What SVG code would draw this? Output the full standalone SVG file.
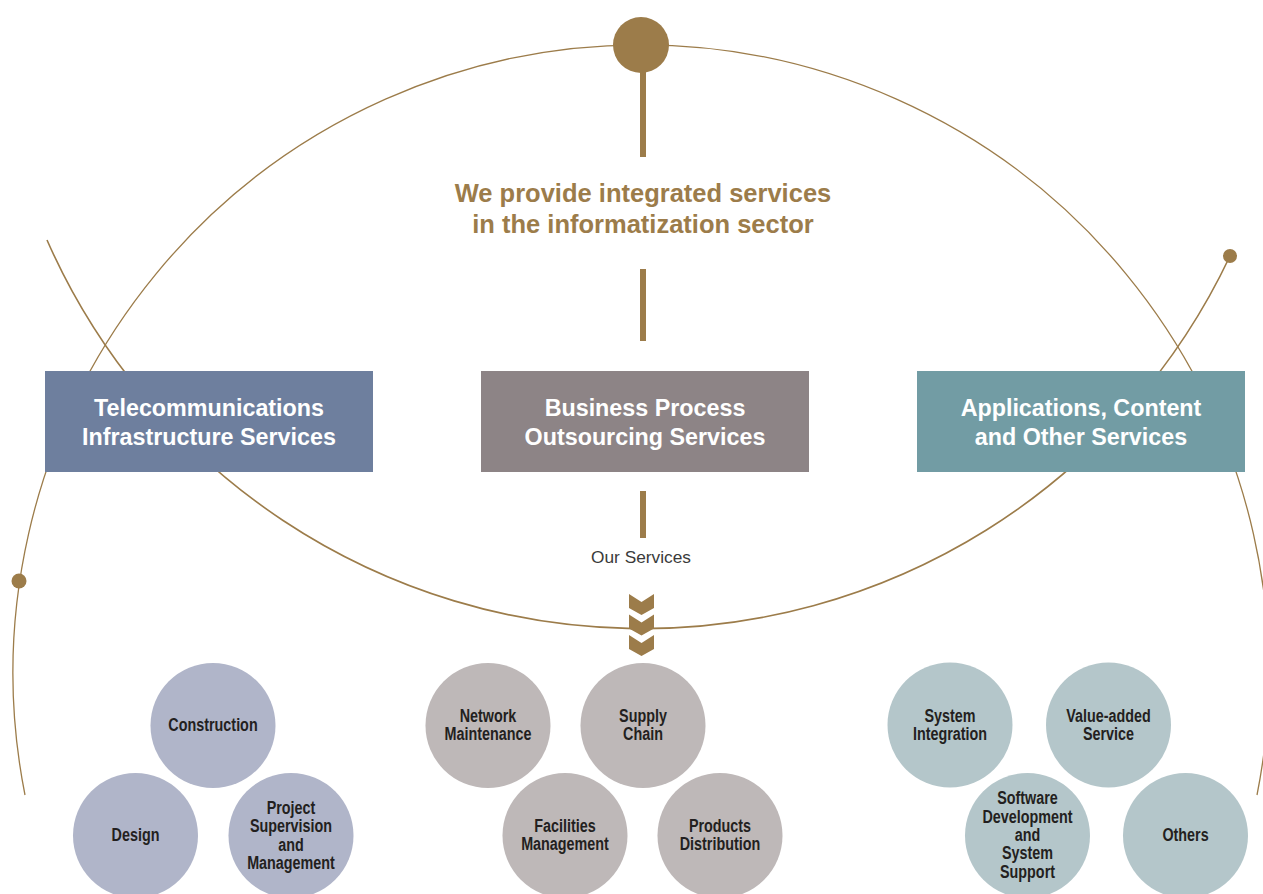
<svg xmlns="http://www.w3.org/2000/svg" width="1263" height="894" viewBox="0 0 1263 894">
  <style>
    .arc { fill: none; stroke: #9C7C4A; }
    .gold { fill: #9C7C4A; }
    .headline { font-family: "Liberation Sans", Arial, sans-serif; font-weight: bold; font-size: 25.5px; fill: #9C7C4A; text-anchor: middle; }
    .boxlabel { font-family: "Liberation Sans", Arial, sans-serif; font-weight: bold; font-size: 23.3px; fill: #FFFFFF; text-anchor: middle; }
    .caption { font-family: "Liberation Sans", Arial, sans-serif; font-size: 17.3px; fill: #3A3A3A; text-anchor: middle; }
    .svc { font-family: "Liberation Sans", Arial, sans-serif; font-weight: bold; font-size: 17.5px; fill: #231F20; text-anchor: middle; }
    .c-tel { fill: #B0B5C9; }
    .c-bpo { fill: #BEB8B8; }
    .c-app { fill: #B4C6CA; }
  </style>

  <!-- connectors: sweeping arcs, stems and chevrons -->
  <g id="connectors">
    <path class="arc" stroke-width="1.3" d="M25,795 A628,628 0 1 1 1257,795"/>
    <path class="arc" stroke-width="1.6" d="M47,240 A650,650 0 0 0 1230,256"/>
    <circle class="gold" cx="19" cy="581" r="7.5"/>
    <circle class="gold" cx="1230" cy="256" r="7"/>
    <circle class="gold" cx="641" cy="45" r="28"/>
    <rect class="gold" x="640" y="70" width="6" height="87"/>
    <rect class="gold" x="640" y="269" width="6" height="72"/>
    <rect class="gold" x="640" y="491" width="6" height="47"/>
    <g class="gold">
      <polygon points="629,594 641.5,602 654,594 654,608 641.5,615 629,608"/>
      <polygon points="629,614.5 641.5,622.5 654,614.5 654,628.5 641.5,635.5 629,628.5"/>
      <polygon points="629,635 641.5,643 654,635 654,649 641.5,656 629,649"/>
    </g>
  </g>

  <g id="headline">
    <text class="headline" x="643" y="202">We provide integrated services</text>
    <text class="headline" x="643" y="233">in the informatization sector</text>
  </g>

  <g id="box-telecom">
    <rect x="45" y="371" width="328" height="101" fill="#6E7F9E"/>
    <text class="boxlabel" x="209" y="416">Telecommunications</text>
    <text class="boxlabel" x="209" y="445">Infrastructure Services</text>
  </g>
  <g id="box-bpo">
    <rect x="481" y="371" width="328" height="101" fill="#8D8486"/>
    <text class="boxlabel" x="645" y="416">Business Process</text>
    <text class="boxlabel" x="645" y="445">Outsourcing Services</text>
  </g>
  <g id="box-apps">
    <rect x="917" y="371" width="328" height="101" fill="#729CA4"/>
    <text class="boxlabel" x="1081" y="416">Applications, Content</text>
    <text class="boxlabel" x="1081" y="445">and Other Services</text>
  </g>

  <g id="caption">
    <text class="caption" x="641" y="563">Our Services</text>
  </g>

  <!-- telecom infrastructure services (labels set in a condensed face) -->
  <g id="svc-construction">
    <circle class="c-tel" cx="213" cy="725.5" r="62.5"/>
    <g transform="translate(213 0) scale(0.82 1)">
      <text class="svc" x="0" y="731.5">Construction</text>
    </g>
  </g>
  <g id="svc-design">
    <circle class="c-tel" cx="135.5" cy="835.5" r="62.5"/>
    <g transform="translate(135.5 0) scale(0.82 1)">
      <text class="svc" x="0" y="841.5">Design</text>
    </g>
  </g>
  <g id="svc-project">
    <circle class="c-tel" cx="291" cy="835.5" r="62.5"/>
    <g transform="translate(291 0) scale(0.82 1)">
      <text class="svc" x="0" y="814">Project</text>
      <text class="svc" x="0" y="832.3">Supervision</text>
      <text class="svc" x="0" y="850.6">and</text>
      <text class="svc" x="0" y="869">Management</text>
    </g>
  </g>

  <!-- business process outsourcing services -->
  <g id="svc-network">
    <circle class="c-bpo" cx="488" cy="725.5" r="62.5"/>
    <g transform="translate(488 0) scale(0.82 1)">
      <text class="svc" x="0" y="722.5">Network</text>
      <text class="svc" x="0" y="740.5">Maintenance</text>
    </g>
  </g>
  <g id="svc-supply">
    <circle class="c-bpo" cx="643" cy="725.5" r="62.5"/>
    <g transform="translate(643 0) scale(0.82 1)">
      <text class="svc" x="0" y="722.5">Supply</text>
      <text class="svc" x="0" y="740.5">Chain</text>
    </g>
  </g>
  <g id="svc-facilities">
    <circle class="c-bpo" cx="565" cy="835.5" r="62.5"/>
    <g transform="translate(565 0) scale(0.82 1)">
      <text class="svc" x="0" y="832.5">Facilities</text>
      <text class="svc" x="0" y="850.5">Management</text>
    </g>
  </g>
  <g id="svc-products">
    <circle class="c-bpo" cx="720" cy="835.5" r="62.5"/>
    <g transform="translate(720 0) scale(0.82 1)">
      <text class="svc" x="0" y="832.5">Products</text>
      <text class="svc" x="0" y="850.5">Distribution</text>
    </g>
  </g>

  <!-- applications, content and other services -->
  <g id="svc-integration">
    <circle class="c-app" cx="950" cy="725" r="62.5"/>
    <g transform="translate(950 0) scale(0.82 1)">
      <text class="svc" x="0" y="722">System</text>
      <text class="svc" x="0" y="740">Integration</text>
    </g>
  </g>
  <g id="svc-value">
    <circle class="c-app" cx="1108.5" cy="725" r="62.5"/>
    <g transform="translate(1108.5 0) scale(0.82 1)">
      <text class="svc" x="0" y="722">Value-added</text>
      <text class="svc" x="0" y="740">Service</text>
    </g>
  </g>
  <g id="svc-software">
    <circle class="c-app" cx="1027.5" cy="835.5" r="62.5"/>
    <g transform="translate(1027.5 0) scale(0.82 1)">
      <text class="svc" x="0" y="804.5">Software</text>
      <text class="svc" x="0" y="822.8">Development</text>
      <text class="svc" x="0" y="841.1">and</text>
      <text class="svc" x="0" y="859.4">System</text>
      <text class="svc" x="0" y="877.7">Support</text>
    </g>
  </g>
  <g id="svc-others">
    <circle class="c-app" cx="1185.5" cy="835.5" r="62.5"/>
    <g transform="translate(1185.5 0) scale(0.82 1)">
      <text class="svc" x="0" y="841.5">Others</text>
    </g>
  </g>
</svg>
